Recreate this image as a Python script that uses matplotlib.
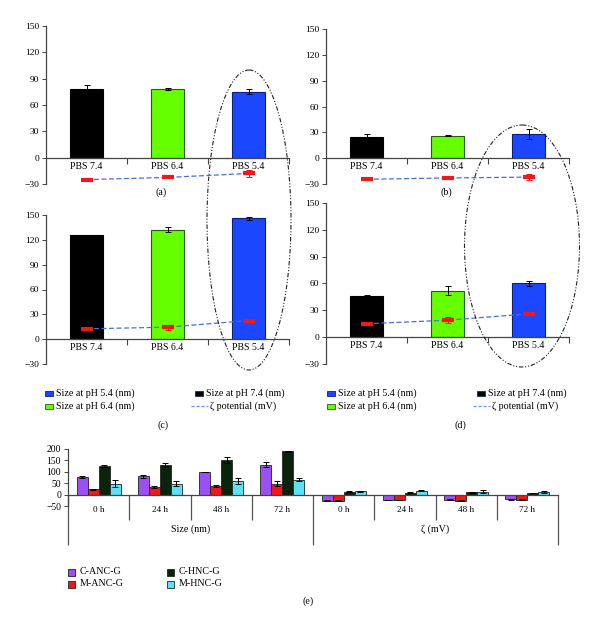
import numpy as np
import matplotlib.pyplot as plt
from matplotlib.patches import Ellipse, Rectangle

plt.rcParams['font.family'] = ['Liberation Serif', 'DejaVu Serif']
plt.rcParams['font.size'] = 6.6

# ---- data, panels (a)-(d): size (nm) bars and zeta potential (mV) points
categories = ['PBS 7.4', 'PBS 6.4', 'PBS 5.4']

size_a = [78, 78, 75]
size_a_err = [5, 1, 3]
zeta_a = [-25, -22.5, -18]
zeta_a_err = [0.8, 0.8, 4]

size_b = [25, 26, 28]
size_b_err = [2.5, 0.5, 5.5]
zeta_b = [-24.5, -23, -22]
zeta_b_err = [0.8, 0.5, 3.5]

size_c = [126, 132, 146]
size_c_err = [0.3, 3, 2]
zeta_c = [12.5, 14.5, 22.5]
zeta_c_err = [0.5, 3, 1]

size_d = [46, 52, 60]
size_d_err = [1, 5, 3]
zeta_d = [15, 19, 26]
zeta_d_err = [0.5, 3, 1]

# ---- data, panel (e)
times = ['0 h', '24 h', '48 h', '72 h']
series_names = ['C-ANC-G', 'M-ANC-G', 'C-HNC-G', 'M-HNC-G']

c_anc_size = [78, 81, 100, 131]
c_anc_size_err = [4, 7, 1, 12]
m_anc_size = [24, 32, 38, 48]
m_anc_size_err = [2, 4, 5, 10]
c_hnc_size = [126, 132, 151, 190]
c_hnc_size_err = [4, 8, 12, 3]
m_hnc_size = [47, 48, 59, 66]
m_hnc_size_err = [15, 12, 12, 6]

c_anc_zeta = [-26, -23, -23, -20]
c_anc_zeta_err = [2, 1, 2, 2]
m_anc_zeta = [-26, -23, -26, -23]
m_anc_zeta_err = [2, 1, 2, 2]
c_hnc_zeta = [12, 9, 10, 6]
c_hnc_zeta_err = [2, 1, 2, 1]
m_hnc_zeta = [15, 16, 13, 12]
m_hnc_zeta_err = [2, 2, 8, 3]

W, H = 600, 627
fig = plt.figure(figsize=(6, 6.27), dpi=100)


def px_axes(left, right, top, bottom):
    # place an axes by its pixel box
    return fig.add_axes([left / W, 1 - bottom / H, (right - left) / W, (bottom - top) / H])


bar_colors = ['#000000', '#66ff00', '#1a47ff']
bar_edges = ['#000000', '#2a5a10', '#0a1f80']
spine_col = '#444444'


def draw_ph_panel(ax, sizes, size_err, zetas, zeta_err):
    x = np.arange(len(categories))
    ax.bar(x, sizes, width=0.4, color=bar_colors, edgecolor=bar_edges, linewidth=0.8,
           yerr=size_err, error_kw=dict(ecolor='black', elinewidth=0.7, capsize=2, capthick=0.7),
           zorder=2)
    ax.plot(x, zetas, ls=(0, (4, 2)), color='#4a6fe0', lw=0.9, zorder=3)
    ax.errorbar(x, zetas, yerr=zeta_err, fmt='none', ecolor='#ff1010',
                elinewidth=0.7, capsize=2, capthick=0.7, zorder=4)
    ax.plot(x, zetas, ls='none', marker='_', color='#f01818', ms=9, mew=3, zorder=5)
    ax.set_xlim(-0.5, 2.5)
    ax.set_ylim(-30, 150)
    ax.set_yticks(range(-30, 151, 30))
    ax.set_xticks(x)
    ax.set_xticklabels(categories)
    ax.set_xticks([0.5, 1.5, 2.5], minor=True)
    ax.tick_params(axis='x', which='major', length=0, pad=3, labelsize=7)
    ax.tick_params(axis='x', which='minor', length=4, width=0.8, color=spine_col, direction='out')
    ax.tick_params(axis='y', length=3, width=0.7, color=spine_col, pad=2, labelsize=6.8)
    ax.spines['bottom'].set_position(('data', 0))
    for s in ['top', 'right']:
        ax.spines[s].set_visible(False)
    for s in ['left', 'bottom']:
        ax.spines[s].set_color(spine_col)
        ax.spines[s].set_linewidth(0.9)
    ax.patch.set_alpha(0)


ax_a = px_axes(46, 289, 26, 184)
draw_ph_panel(ax_a, size_a, size_a_err, zeta_a, zeta_a_err)
ax_b = px_axes(326, 569, 29, 184)
draw_ph_panel(ax_b, size_b, size_b_err, zeta_b, zeta_b_err)
ax_c = px_axes(46, 289, 215, 364)
draw_ph_panel(ax_c, size_c, size_c_err, zeta_c, zeta_c_err)
ax_d = px_axes(326, 569, 203, 364)
draw_ph_panel(ax_d, size_d, size_d_err, zeta_d, zeta_d_err)

# ---- panel (e)
ax_e = px_axes(68, 558, 449, 506)
e_colors = ['#9b4ff5', '#f21616', '#0b220b', '#5ce1f7']
e_values = [c_anc_size + c_anc_zeta, m_anc_size + m_anc_zeta,
            c_hnc_size + c_hnc_zeta, m_hnc_size + m_hnc_zeta]
e_errors = [c_anc_size_err + c_anc_zeta_err, m_anc_size_err + m_anc_zeta_err,
            c_hnc_size_err + c_hnc_zeta_err, m_hnc_size_err + m_hnc_zeta_err]
offsets = [-0.27, -0.09, 0.09, 0.27]
gx = np.arange(len(times) * 2)
for vals, errs, col, off in zip(e_values, e_errors, e_colors, offsets):
    ax_e.bar(gx + off, vals, width=0.18, color=col, edgecolor='#222222', linewidth=0.6,
             yerr=errs, error_kw=dict(ecolor='black', elinewidth=0.7, capsize=2, capthick=0.7),
             zorder=2)
ax_e.set_xlim(-0.5, 7.5)
ax_e.set_ylim(-50, 200)
ax_e.set_yticks(range(-50, 201, 50))
ax_e.set_xticks(gx)
ax_e.set_xticklabels(times * 2, fontsize=7.2)
ax_e.tick_params(axis='x', length=0, pad=8)
ax_e.tick_params(axis='y', length=3, width=0.7, color=spine_col, pad=2, labelsize=6.9)
ax_e.spines['bottom'].set_position(('data', 0))
for s in ['top', 'right']:
    ax_e.spines[s].set_visible(False)
for s in ['left', 'bottom']:
    ax_e.spines[s].set_color(spine_col)
    ax_e.spines[s].set_linewidth(0.9)
ax_e.patch.set_alpha(0)
tr = ax_e.get_xaxis_transform()
ax_e.vlines([0.5, 1.5, 2.5, 4.5, 5.5, 6.5], -0.246, 0.2, transform=tr, colors='#555555',
            lw=0.9, clip_on=False)
ax_e.vlines([-0.5, 3.5, 7.5], -0.684, 0.2, transform=tr, colors='#555555', lw=0.9, clip_on=False)
ax_e.text(1.5, -0.4, 'Size (nm)', transform=tr, ha='center', va='center', fontsize=7.2)
ax_e.text(5.5, -0.4, 'ζ (mV)', transform=tr, ha='center', va='center', fontsize=7.2)

# ---- overlay in pixel coordinates: ellipses, legends, panel letters
ov = fig.add_axes([0, 0, 1, 1])
ov.set_xlim(0, W)
ov.set_ylim(H, 0)
ov.axis('off')

dash_dot = (0, (4, 1.6, 1, 1.6, 1, 1.6))
ov.add_patch(Ellipse((249, 220), 84, 300, fill=False, ec='#222222', lw=0.8, ls=dash_dot))
ov.add_patch(Ellipse((522, 246), 115, 242, fill=False, ec='#222222', lw=0.8, ls=dash_dot))

for txt, x, y in [('(a)', 161, 192), ('(b)', 446, 192), ('(c)', 163, 425),
                  ('(d)', 460, 425), ('(e)', 308, 601)]:
    ov.text(x, y, txt, ha='center', va='center', fontsize=7.2)


def ph_legend(x0, x1, y0, y1):
    entries = [(x0, y0, '#1a47ff', '#0a1f80', 'Size at pH 5.4 (nm)'),
               (x0, y1, '#66ff00', '#2a5a10', 'Size at pH 6.4 (nm)'),
               (x1, y0, '#000000', '#1a2a60', 'Size at pH 7.4 (nm)')]
    for x, y, fc, ec, label in entries:
        ov.add_patch(Rectangle((x - 4, y - 2.5), 8, 5, fc=fc, ec=ec, lw=0.6))
        ov.text(x + 7, y, label, va='center', fontsize=7.2)
    ov.plot([x1 - 8, x1 + 9], [y1, y1], ls=(0, (2.5, 1.5)), color='#6f8fe8', lw=0.9)
    ov.text(x1 + 11, y1, 'ζ potential (mV)', va='center', fontsize=7.2)


ph_legend(49, 199, 393, 406)
ph_legend(331, 481, 393, 406)

for (x, y), col, name in zip([(71, 572), (71, 584), (170, 572), (170, 584)],
                             e_colors, series_names):
    ov.add_patch(Rectangle((x - 3.5, y - 3.5), 7, 7, fc=col, ec='#222222', lw=0.6))
    ov.text(x + 9, y, name, va='center', fontsize=7.2)

fig.savefig('out.png', dpi=100)
